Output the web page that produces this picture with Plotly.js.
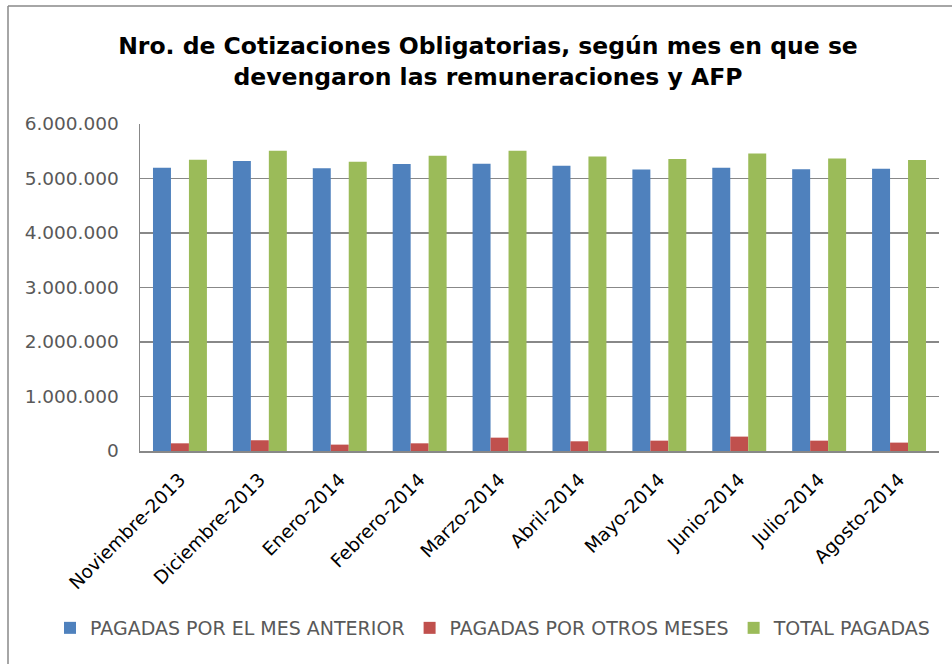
<!DOCTYPE html>
<html>
<head>
<meta charset="utf-8">
<script src="https://cdn.plot.ly/plotly-3.0.1.min.js"></script>
<style>html,body{margin:0;padding:0;background:#fff;}#chart{width:952px;height:664px;}</style>
</head>
<body>
<div id="chart"></div>
<script>
const categorias = ["Noviembre-2013","Diciembre-2013","Enero-2014","Febrero-2014","Marzo-2014","Abril-2014","Mayo-2014","Junio-2014","Julio-2014","Agosto-2014"];
const pagadasMesAnterior = [5197000, 5320000, 5190000, 5265000, 5270000, 5233000, 5166000, 5197000, 5172000, 5180000];
const pagadasOtrosMeses = [141000, 197000, 117000, 141000, 245000, 178000, 190000, 264000, 190000, 154000];
const totalPagadas = [5344000, 5510000, 5307000, 5417000, 5510000, 5405000, 5356000, 5460000, 5368000, 5338000];
const nombresSeries = ["PAGADAS POR EL MES ANTERIOR", "PAGADAS POR OTROS MESES", "TOTAL PAGADAS"];
const yTicks = [0, 1000000, 2000000, 3000000, 4000000, 5000000, 6000000];

const colores = ["#4F81BD", "#C0504D", "#9BBB59"];
const valores = [pagadasMesAnterior, pagadasOtrosMeses, totalPagadas];

const data = valores.map((v, i) => ({
  type: "bar",
  x: categorias,
  y: v,
  name: nombresSeries[i],
  marker: {color: colores[i], line: {width: 0}},
  hoverinfo: "x+y+name"
}));

// frame pixel helpers
const L = 140, R = 13, T = 124, B = 213, W = 952, H = 664;
const pw = W - L - R, ph = H - T - B;
const px = x => (x - L) / pw;
const py = y => (H - B - y) / ph;

const layout = {
  width: W, height: H,
  margin: {l: L, r: R, t: T, b: B},
  paper_bgcolor: "#fff",
  plot_bgcolor: "#fff",
  separators: ",.",
  barmode: "group",
  bargap: 0.325,
  bargroupgap: 0,
  font: {family: "DejaVu Sans, sans-serif", color: "#595959"},
  title: {
    text: "<b>Nro. de Cotizaciones Obligatorias, según mes en que se<br>devengaron las remuneraciones y AFP</b>",
    font: {family: "DejaVu Sans, sans-serif", size: 23.5, color: "#000"},
    x: 488 / W, xref: "container", xanchor: "center",
    y: 1 - 54 / H, yref: "container", yanchor: "top"
  },
  xaxis: {
    type: "category",
    tickangle: -45,
    tickfont: {size: 18.5, color: "#000", family: "DejaVu Sans, sans-serif"},
    ticklabelstandoff: 9,
    showline: true, linecolor: "#888", linewidth: 1.5,
    showgrid: false, ticks: "", fixedrange: true
  },
  yaxis: {
    range: [0, 6000000],
    tickvals: yTicks,
    tickformat: ",d",
    tickfont: {size: 18.5, color: "#595959", family: "DejaVu Sans, sans-serif"},
    ticklabelstandoff: 16,
    showline: true, linecolor: "#888", linewidth: 1.5,
    showgrid: true, gridcolor: "#888", gridwidth: 1.5,
    zeroline: false, ticks: "", ticklen: 0, fixedrange: true
  },
  showlegend: true,
  legend: {
    orientation: "h",
    xref: "paper", yref: "paper",
    x: px(50), xanchor: "left",
    y: py(628), yanchor: "middle",
    font: {size: 19, color: "#595959", family: "DejaVu Sans, sans-serif"},
    itemwidth: 30,
    traceorder: "normal"
  },
  shapes: [
    {type: "line", xref: "paper", yref: "paper", x0: px(8), x1: px(8), y0: py(6), y1: py(700), line: {color: "#888", width: 1.5}},
    {type: "line", xref: "paper", yref: "paper", x0: px(8), x1: px(1000), y0: py(6), y1: py(6), line: {color: "#888", width: 1.5}}
  ]
};

Plotly.newPlot("chart", data, layout, {displayModeBar: false, staticPlot: true});
</script>
</body>
</html>
